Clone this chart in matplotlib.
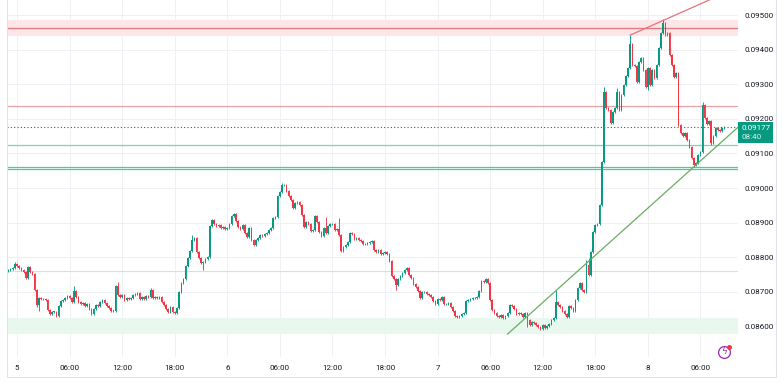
import matplotlib
matplotlib.use("Agg")
import matplotlib.pyplot as plt
import numpy as np
from matplotlib.lines import Line2D
from matplotlib.patches import Rectangle

plt.rcParams['font.family'] = ['Roboto', 'DejaVu Sans']

# 15 minute candles, time in hours from day 5 00:00
start_hour = -1.0
step_hour = 0.25
first_open = 8760  # prices below are in units of 1e-5

closes = [
    # day 4 23:00 - day 5 05:45
    8763, 8766, 8769, 8780, 8775, 8769, 8763, 8757, 8740, 8772, 8757, 8752, 8705, 8662,
    8682, 8679, 8679, 8676, 8648, 8636, 8642, 8642, 8630, 8659, 8674, 8676, 8682, 8688,
    # 06:00 - 11:45
    8682, 8671, 8702, 8685, 8671, 8665, 8668, 8659, 8665, 8650, 8636, 8650,
    8662, 8659, 8671, 8676, 8668, 8659, 8653, 8645, 8645, 8717, 8691, 8685,
    # 12:00 - 17:45
    8691, 8676, 8682, 8679, 8682, 8691, 8694, 8697, 8679, 8685, 8679, 8688,
    8685, 8705, 8682, 8685, 8682, 8685, 8671, 8662, 8650, 8642, 8656, 8642,
    # 18:00 - 23:45
    8639, 8653, 8699, 8725, 8737, 8775, 8797, 8818, 8849, 8855, 8815, 8797,
    8783, 8786, 8795, 8800, 8890, 8907, 8896, 8890, 8893, 8884, 8887, 8881,
    # day 6 00:00
    8884, 8896, 8919, 8925, 8904, 8887, 8881, 8893, 8870, 8858, 8884, 8849,
    8835, 8849, 8855, 8864, 8861, 8867, 8870, 8878, 8884, 8913, 8916, 8977,
    # 06:00
    8988, 9008, 9008, 8991, 8977, 8965, 8942, 8956, 8959, 8951, 8922, 8887,
    8902, 8896, 8876, 8878, 8919, 8902, 8873, 8861, 8884, 8870, 8890, 8896,
    # 12:00
    8896, 8878, 8881, 8864, 8818, 8830, 8835, 8844, 8870, 8867, 8853, 8855,
    8849, 8847, 8838, 8838, 8841, 8844, 8847, 8821, 8815, 8821, 8809, 8812,
    # 18:00
    8815, 8809, 8789, 8746, 8737, 8720, 8737, 8746, 8754, 8763, 8769, 8749,
    8740, 8723, 8714, 8702, 8682, 8699, 8699, 8694, 8691, 8685, 8674, 8665,
    # day 7 00:00
    8679, 8676, 8685, 8665, 8665, 8668, 8656, 8645, 8630, 8627, 8630, 8636,
    8639, 8674, 8676, 8679, 8682, 8682, 8685, 8702, 8731, 8728, 8737, 8725,
    # 06:00
    8676, 8648, 8639, 8630, 8627, 8633, 8624, 8630, 8639, 8662, 8659, 8650,
    8636, 8639, 8636, 8627, 8639, 8618, 8604, 8612, 8610, 8604, 8598, 8593,
    # 12:00
    8604, 8596, 8601, 8607, 8618, 8624, 8671, 8662, 8656, 8645, 8636, 8627,
    8659, 8653, 8645, 8676, 8711, 8725, 8705, 8699, 8778, 8749, 8815, 8873,
    # 18:00
    8893, 8896, 8951, 9075, 9278, 9231, 9226, 9188, 9220, 9231, 9278, 9226,
    9269, 9298, 9324, 9347, 9416, 9356, 9353, 9306, 9364, 9376, 9341, 9292,
    # day 8 00:00
    9347, 9298, 9341, 9318, 9356, 9405, 9448, 9477, 9442, 9448, 9384, 9356,
    9321, 9332, 9182, 9159, 9150, 9159, 9139, 9119, 9087, 9067, 9072, 9095,
    # 06:00
    9104, 9240, 9202, 9185, 9194, 9130, 9150, 9174, 9168, 9165, 9174, 9177,
]

# visible long wicks (candle index: price)
high_marks = {3: 8786, 30: 8717, 50: 8728, 65: 8711, 84: 8864, 125: 9014, 145: 8916,
              151: 8913, 250: 8705, 264: 8792, 265: 8798, 272: 9292, 278: 9289,
              284: 9442, 299: 9489, 317: 9249}
low_marks = {13: 8657, 14: 8646, 89: 8763, 177: 8705, 237: 8598, 243: 8590,
             292: 9283, 313: 9061, 321: 9124}
wick = 3

# drawn levels
red_zone = (9439, 9485)
red_zone_line = 9462
red_line = 9236
last_price = 9177
green_line = 9123
green_pair = (9061, 9054)
green_faint = 8761
green_zone = (8578, 8624)

# trend lines (hour, price)
red_trend = [(70.0, 9442), (74.0, 9487)]
green_trend = [(56.0, 8578), (77.25, 9061)]

tick_hours = [0, 6, 12, 18, 24, 30, 36, 42, 48, 54, 60, 66, 72, 78]
tick_labels = ["5", "06:00", "12:00", "18:00", "6", "06:00", "12:00", "18:00",
               "7", "06:00", "12:00", "18:00", "8", "06:00"]
price_ticks = [8600, 8700, 8800, 8900, 9000, 9100, 9200, 9300, 9400, 9500]

UP = "#089981"
DOWN = "#f23645"
scale = 1e-5

c = np.array(closes) * scale
o = np.concatenate([[first_open * scale], c[:-1]])
n = len(c)
t = start_hour + step_hour * np.arange(n)
hi = np.maximum(o, c) + wick * scale
lo = np.minimum(o, c) - wick * scale
for k, v in high_marks.items():
    hi[k] = v * scale
for k, v in low_marks.items():
    lo[k] = v * scale
up = c >= o
cols = np.where(up, UP, DOWN)

fig = plt.figure(figsize=(7.83, 3.88), dpi=100)
fig.patch.set_facecolor("white")
W, H = 783, 388
ax = fig.add_axes([6.7 / W, (H - 357) / H, (738 - 6.7) / W, 357 / H])

xmin, xmax = -1.18, 82.3
ax.set_xlim(xmin, xmax)
ax.set_ylim(0.085117, 0.095434)

# grid
for p in price_ticks:
    ax.axhline(p * scale, color="#eef0f3", lw=0.7, zorder=0)
for h in tick_hours:
    ax.axvline(h, color="#eef0f3", lw=0.7, zorder=0)

# zones and levels
ax.axhspan(red_zone[0] * scale, red_zone[1] * scale, color="#fde6e8", lw=0, zorder=1)
ax.axhline(red_zone_line * scale, color="#e07b80", lw=1.0, zorder=2)
ax.axhline(red_line * scale, color="#e8a3a6", lw=0.9, zorder=2)
ax.axhspan(green_zone[0] * scale, green_zone[1] * scale, color="#e8f8ee", lw=0, zorder=1)
ax.axhline(green_faint * scale, color="#c4ecdb", lw=0.8, zorder=2)
ax.axhline(green_line * scale, color="#6fd9b3", lw=0.9, zorder=2)
for g in green_pair:
    ax.axhline(g * scale, color="#45cf9e", lw=0.9, zorder=2)
ax.axhline(last_price * scale, color="#2f5f6b", lw=0.8, ls=(0, (1, 2)), zorder=3)

# candles
ax.vlines(t, lo, hi, colors=cols, lw=0.65, zorder=4)
body_lo = np.minimum(o, c)
body_h = np.maximum(np.abs(c - o), 1.2 * scale)
ax.bar(t, body_h, bottom=body_lo, width=0.18, color=cols, lw=0, zorder=5)

# trend lines, extended to the right edge
def ray(pts):
    (x0, y0), (x1, y1) = pts
    slope = (y1 - y0) / (x1 - x0)
    return [x0, xmax], [y0 * scale, (y0 + slope * (xmax - x0)) * scale]

xs, ys = ray(red_trend)
ax.plot(xs, ys, color="#e8727a", lw=0.9, zorder=6)
xs, ys = ray(green_trend)
ax.plot(xs, ys, color="#6aad5f", lw=0.9, zorder=6)

# axes styling
for s in ax.spines.values():
    s.set_visible(False)
ax.set_xticks(tick_hours)
ax.set_xticklabels(tick_labels)
ax.yaxis.tick_right()
ax.set_yticks([p * scale for p in price_ticks])
ax.set_yticklabels([f"{p * scale:.5f}" for p in price_ticks])
ax.tick_params(axis="both", length=0, labelsize=5.8, colors="#131722")
ax.tick_params(axis="x", pad=5.5)
ax.tick_params(axis="y", pad=5)

# frame lines
border = "#e0e3eb"
fig.add_artist(Line2D([6.7 / W, 6.7 / W], [1, (H - 377) / H], color=border, lw=0.7))
fig.add_artist(Line2D([6.7 / W, 776 / W], [(H - 377) / H] * 2, color=border, lw=0.7))
fig.add_artist(Line2D([776 / W] * 2, [1, (H - 377) / H], color=border, lw=0.7))

# last price label
fig.add_artist(Rectangle((738 / W, (H - 143) / H), 35 / W, 21 / H, color=UP, lw=0))
fig.text(742 / W, (H - 127.5) / H, f"{last_price * scale:.5f}", color="white",
         fontsize=5.8, va="center", ha="left")
fig.text(742 / W, (H - 137.5) / H, "08:40", color="#d9f2ec",
         fontsize=5.8, va="center", ha="left")

# lightning badge
fig.add_artist(Line2D([724 / W], [(H - 352) / H], marker="o", ms=8.5, mfc="white",
                      mec="#9c27b0", mew=0.9))
fig.text(724 / W, (H - 352) / H, "ϟ", color="#9c27b0", fontsize=6.5,
         ha="center", va="center", family="DejaVu Sans")
fig.add_artist(Line2D([729 / W], [(H - 346.5) / H], marker="o", ms=2.6,
                      mfc="#f23645", mec="#f23645"))

fig.savefig("out.png", dpi=100, facecolor="white")
